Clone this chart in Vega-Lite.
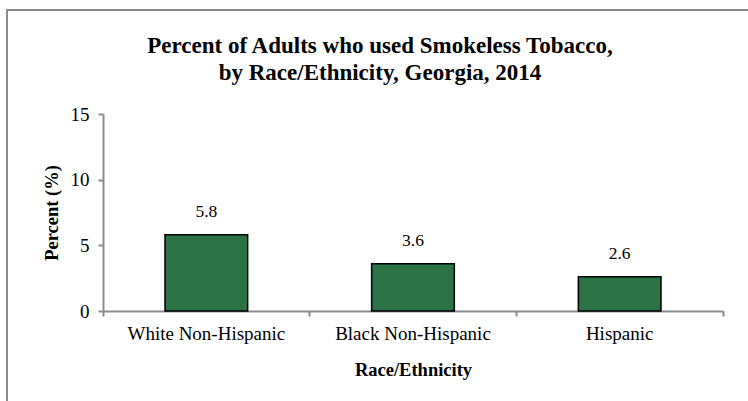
{
  "$schema": "https://vega.github.io/schema/vega-lite/v6.json",
  "width": 760,
  "height": 400,
  "autosize": {"type": "none"},
  "padding": {"left": 7, "top": 10, "right": 0, "bottom": 0},
  "background": "white",
  "config": {
    "view": {"stroke": "#8c8c8c", "strokeWidth": 2},
    "font": "Liberation Serif"
  },
  "title": {
    "text": ["Percent of Adults who used Smokeless Tobacco,", "by Race/Ethnicity, Georgia, 2014"],
    "font": "Liberation Serif",
    "fontSize": 23,
    "fontWeight": "bold",
    "color": "black",
    "anchor": "middle",
    "frame": "group",
    "baseline": "top",
    "offset": -75,
    "dx": -7,
    "lineHeight": 27
  },
  "data": {
    "values": [
      {"group": "White Non-Hispanic", "pct": 5.8},
      {"group": "Black Non-Hispanic", "pct": 3.6},
      {"group": "Hispanic", "pct": 2.6}
    ]
  },
  "encoding": {
    "x": {
      "field": "group",
      "type": "nominal",
      "sort": null,
      "scale": {"range": [96, 716], "paddingInner": 0, "paddingOuter": 0},
      "axis": {
        "title": "Race/Ethnicity",
        "labelAngle": 0,
        "labelFont": "Liberation Serif",
        "labelFontSize": 19,
        "labelColor": "black",
        "labelPadding": 8,
        "titleFont": "Liberation Serif",
        "titleFontSize": 18.5,
        "titleFontWeight": "bold",
        "titleColor": "black",
        "titlePadding": 17,
        "domainColor": "#8c8c8c",
        "domainWidth": 2,
        "tickColor": "#8c8c8c",
        "tickWidth": 2,
        "tickSize": 5,
        "bandPosition": 1,
        "tickExtra": true,
        "offset": -99,
        "grid": false
      }
    },
    "y": {
      "field": "pct",
      "type": "quantitative",
      "scale": {"domain": [0, 15], "range": [301, 104], "nice": false},
      "axis": {
        "title": "Percent (%)",
        "values": [0, 5, 10, 15],
        "labelFont": "Liberation Serif",
        "labelFontSize": 19,
        "labelColor": "black",
        "labelPadding": 9,
        "titleFont": "Liberation Serif",
        "titleFontSize": 18.5,
        "titleFontWeight": "bold",
        "titleColor": "black",
        "titlePadding": 9,
        "domainColor": "#8c8c8c",
        "domainWidth": 2,
        "tickColor": "#8c8c8c",
        "tickWidth": 2,
        "tickSize": 5,
        "offset": -96,
        "grid": false
      }
    }
  },
  "layer": [
    {
      "mark": {"type": "bar", "color": "#2B7347", "stroke": "black", "strokeWidth": 1.5, "width": {"band": 0.4}}
    },
    {
      "mark": {"type": "text", "baseline": "middle", "dy": -23, "fontSize": 17.5, "font": "Liberation Serif", "color": "black"},
      "encoding": {"text": {"field": "pct", "type": "quantitative", "format": ".1f"}}
    }
  ]
}
